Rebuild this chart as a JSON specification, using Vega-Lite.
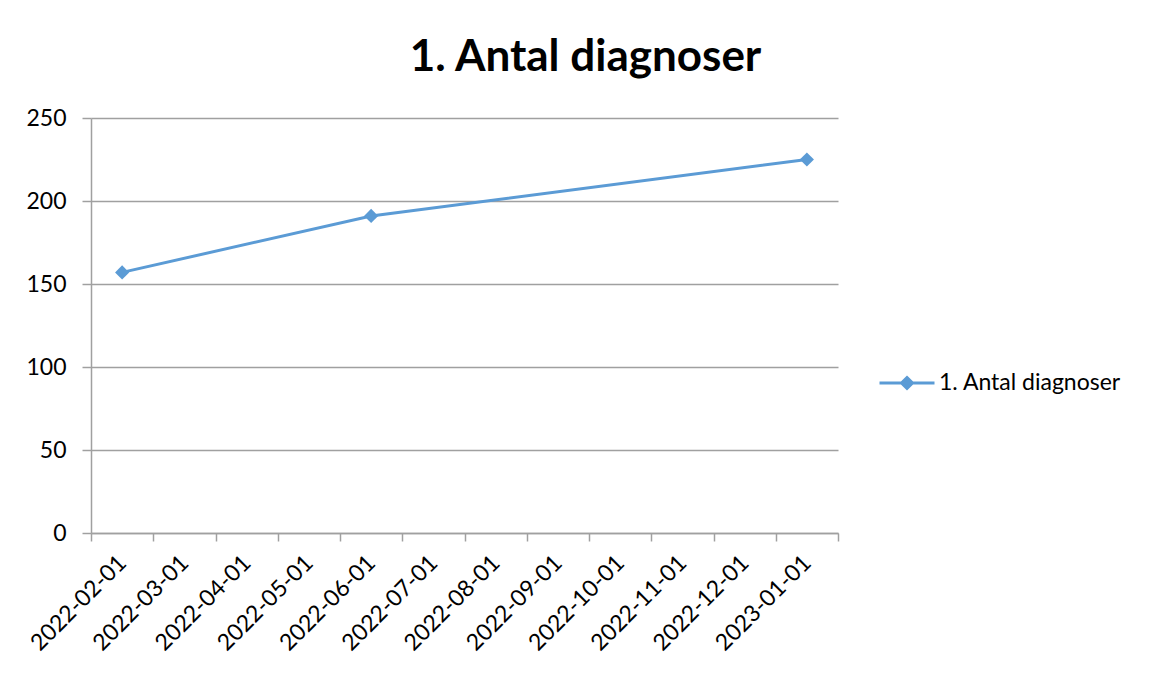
{
  "$schema": "https://vega.github.io/schema/vega-lite/v6.json",
  "width": 747,
  "height": 415,
  "autosize": "none",
  "padding": {"left": 91, "top": 118, "right": 314, "bottom": 142},
  "background": "white",
  "title": {
    "text": "1. Antal diagnoser",
    "font": "Lato",
    "fontSize": 44,
    "fontWeight": "bold",
    "color": "#000000",
    "anchor": "middle",
    "frame": "group",
    "dx": 121,
    "offset": 27
  },
  "data": {
    "values": [
      {"month": "2022-02-01", "value": 157, "series": "1. Antal diagnoser"},
      {"month": "2022-06-01", "value": 191, "series": "1. Antal diagnoser"},
      {"month": "2023-01-01", "value": 225, "series": "1. Antal diagnoser"}
    ]
  },
  "encoding": {
    "x": {
      "field": "month",
      "type": "ordinal",
      "sort": null,
      "scale": {
        "type": "band",
        "paddingInner": 0,
        "paddingOuter": 0,
        "domain": ["2022-02-01","2022-03-01","2022-04-01","2022-05-01","2022-06-01","2022-07-01","2022-08-01","2022-09-01","2022-10-01","2022-11-01","2022-12-01","2023-01-01"]
      },
      "axis": {
        "title": null,
        "labelAngle": -45,
        "labelAlign": "right",
        "labelBaseline": "middle",
        "labelFont": "Lato",
        "labelFontSize": 23,
        "labelColor": "#000000",
        "labelPadding": 18,
        "tickBand": "extent",
        "tickSize": 8,
        "tickColor": "#A0A0A0",
        "domainColor": "#A0A0A0",
        "domainWidth": 1.5,
        "tickWidth": 1.5,
        "grid": false
      }
    },
    "y": {
      "field": "value",
      "type": "quantitative",
      "scale": {"domain": [0, 250], "nice": false},
      "axis": {
        "title": null,
        "values": [0, 50, 100, 150, 200, 250],
        "labelFont": "Lato",
        "labelFontSize": 23,
        "labelColor": "#000000",
        "labelPadding": 16,
        "tickSize": 9,
        "tickColor": "#A0A0A0",
        "domainColor": "#A0A0A0",
        "domainWidth": 1.5,
        "tickWidth": 1.5,
        "grid": true,
        "gridColor": "#A0A0A0",
        "gridWidth": 1.5
      }
    },
    "color": {
      "field": "series",
      "type": "nominal",
      "scale": {"range": ["#5B9BD5"]},
      "legend": {
        "title": null,
        "orient": "none",
        "legendX": 787,
        "legendY": 236,
        "symbolType": "M-1,0H1M0,-0.2L0.2,0L0,0.2L-0.2,0Z",
        "symbolSize": 3025,
        "symbolStrokeWidth": 3,
        "symbolFillColor": "#5B9BD5",
        "symbolStrokeColor": "#5B9BD5",
        "labelFont": "Lato",
        "labelFontSize": 23,
        "labelColor": "#000000",
        "labelOffset": 3,
        "labelLimit": 400,
        "encode": {
          "symbols": {"update": {"fill": {"value": "#5B9BD5"}, "stroke": {"value": "#5B9BD5"}, "strokeWidth": {"value": 3}, "opacity": {"value": 1}}}
        }
      }
    }
  },
  "layer": [
    {"mark": {"type": "line", "strokeWidth": 3}},
    {"mark": {"type": "point", "shape": "diamond", "filled": true, "size": 200, "opacity": 1}}
  ],
  "config": {"view": {"stroke": null}}
}
